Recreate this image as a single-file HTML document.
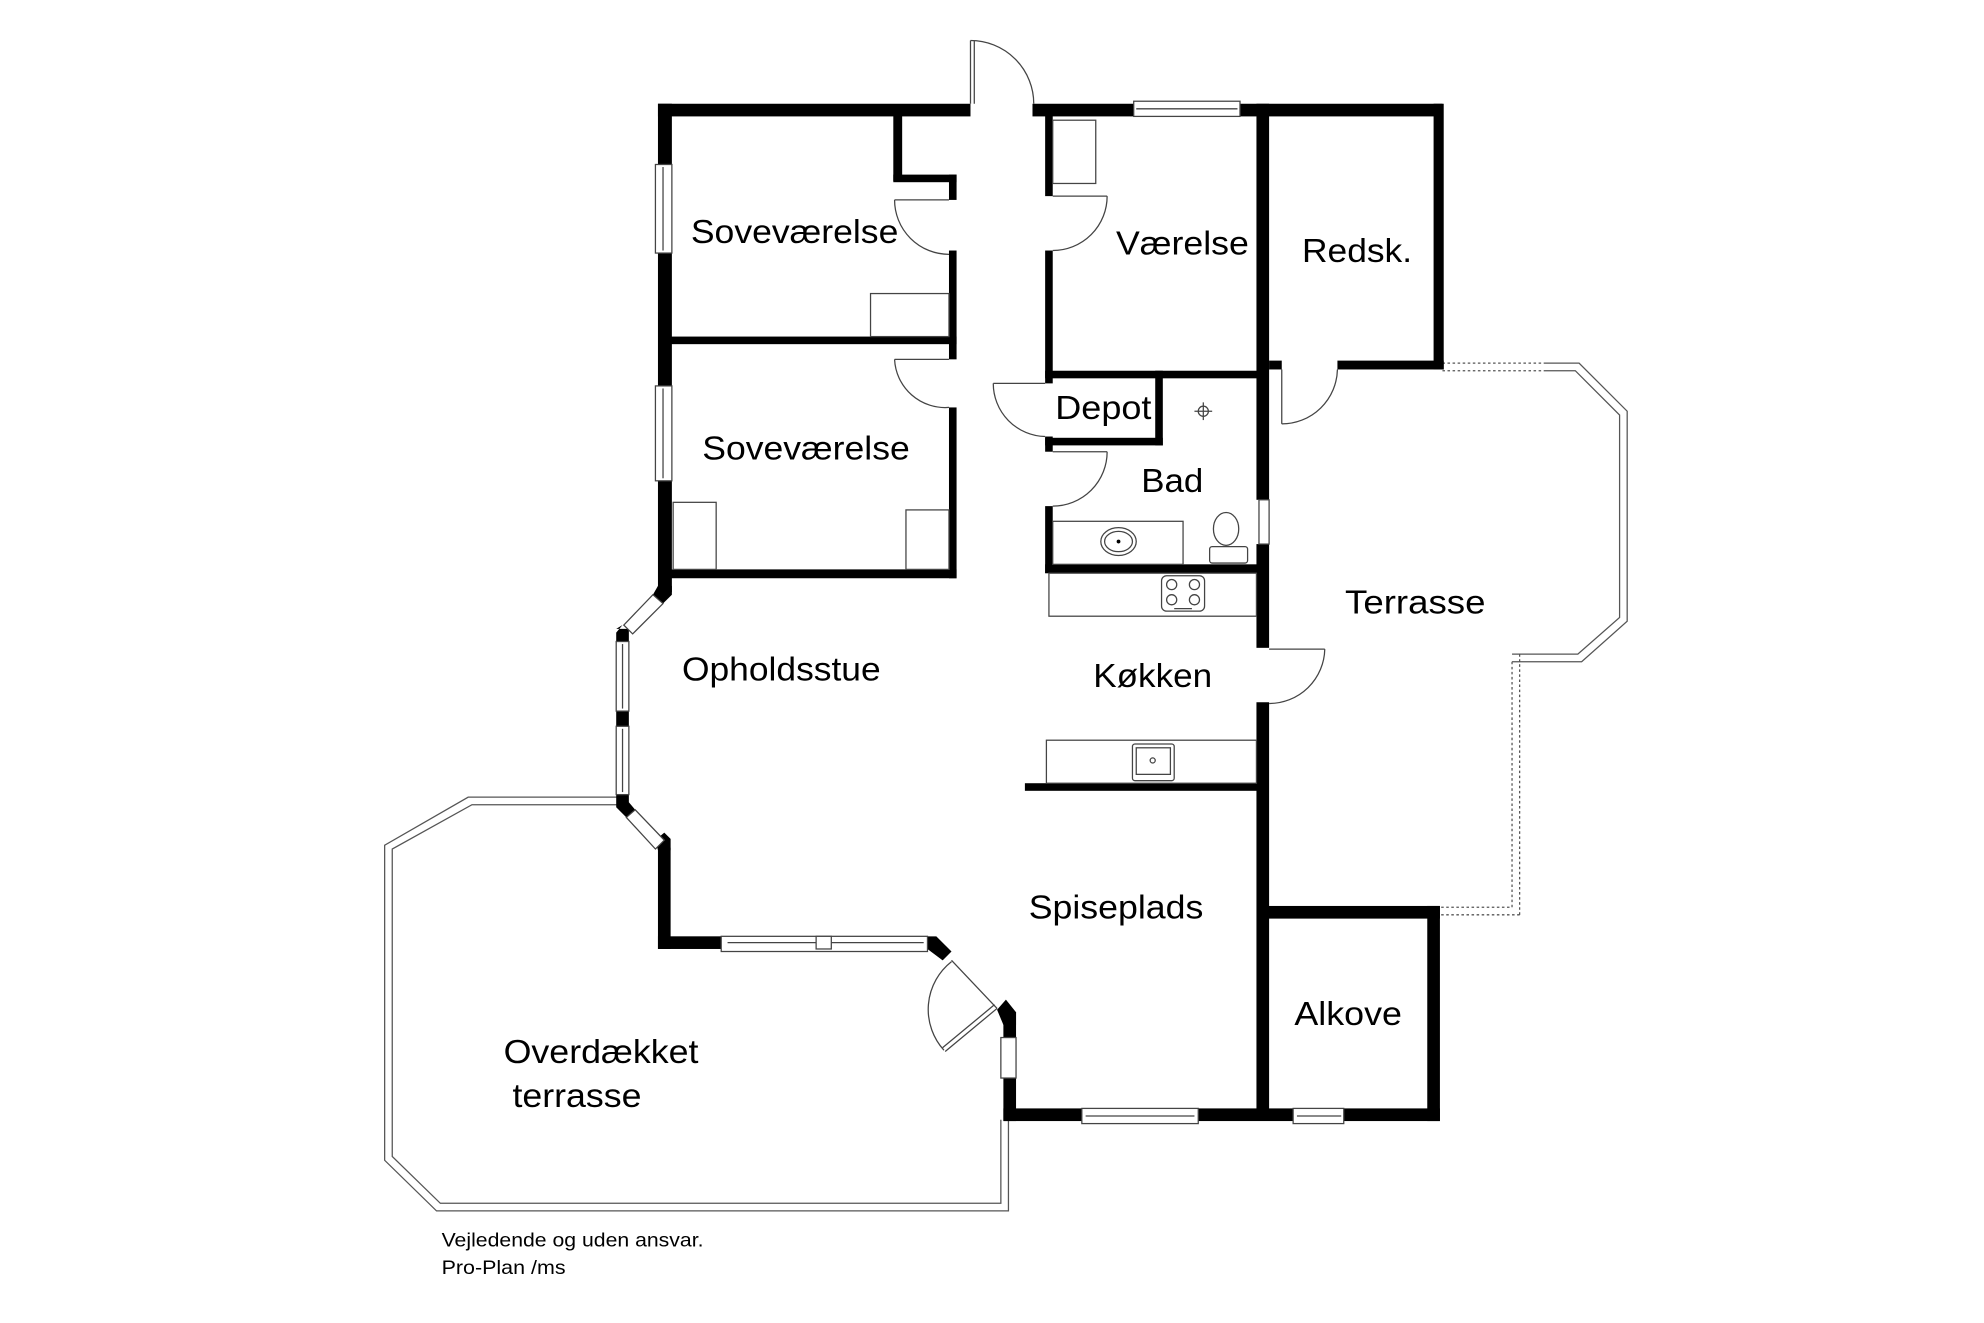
<!DOCTYPE html>
<html><head><meta charset="utf-8"><style>
html,body{margin:0;padding:0;background:#fff;}
svg{display:block;}
text{font-family:"Liberation Sans",Arial,sans-serif;fill:#000;}
</style></head><body>
<svg width="1984" height="1323" viewBox="0 0 1568 1045.6" xmlns="http://www.w3.org/2000/svg">
<rect x="0" y="0" width="1568" height="1046" fill="#fff"/>
<g fill="none" stroke="#555" stroke-width="1">
<!-- Overdaekket terrasse outline (double) -->
<polyline points="492,630 370,630 304,668 304,917 345,957 797,957 797,885"/>
<polyline points="492,636 373,636 310,671 310,914 348,951 791,951 791,885"/>
<!-- Terrasse outline -->
<polyline points="1220,287 1248,287 1286,325 1286,491 1250,523 1195,523"/>
<polyline points="1220,293 1245,293 1280,328 1280,488 1247,517 1195,517"/>
<g stroke-dasharray="2,2">
<line x1="1140" y1="287" x2="1220" y2="287"/><line x1="1140" y1="293" x2="1220" y2="293"/>
<line x1="1195" y1="523" x2="1195" y2="717"/><line x1="1201" y1="517" x2="1201" y2="723"/>
<line x1="1135" y1="717" x2="1195" y2="717"/><line x1="1135" y1="723" x2="1201" y2="723"/>
</g>
</g>
<g fill="#000">
<!-- top wall -->
<rect x="520" y="82" width="247" height="10"/>
<rect x="816" y="82" width="80" height="10"/>
<rect x="980" y="82" width="160" height="10"/>
<!-- left wall -->
<rect x="520" y="82" width="11" height="48"/>
<rect x="520" y="200" width="11" height="105"/>
<rect x="520" y="380" width="11" height="88"/>
<!-- nook -->
<rect x="706" y="91" width="7" height="52"/>
<rect x="706" y="138" width="50" height="6"/>
<rect x="750" y="138" width="6" height="20"/>
<rect x="750" y="198" width="6" height="86"/>
<rect x="525" y="266" width="231" height="6"/>
<rect x="750" y="322" width="6" height="135"/>
<rect x="525" y="450" width="231" height="7"/>
<!-- vaerelse/depot/bad -->
<rect x="826" y="91" width="6" height="64"/>
<rect x="826" y="198" width="6" height="105"/>
<rect x="826" y="293" width="171" height="6"/>
<rect x="913" y="293" width="6" height="59"/>
<rect x="826" y="346" width="93" height="6"/>
<rect x="826" y="345" width="6" height="12"/>
<rect x="826" y="400" width="6" height="53"/>
<rect x="826" y="446" width="171" height="7"/>
<rect x="810" y="619" width="187" height="6"/>
<!-- right wall -->
<rect x="993" y="82" width="10" height="313"/>
<rect x="993" y="430" width="10" height="82"/>
<rect x="993" y="555" width="10" height="330"/>
<!-- redsk -->
<rect x="1133" y="82" width="8" height="210"/>
<rect x="1003" y="285" width="10" height="7"/>
<rect x="1057" y="285" width="84" height="7"/>
<!-- alkove -->
<rect x="998" y="716" width="140" height="10"/>
<rect x="1128" y="716" width="10" height="170"/>
<!-- bottom -->
<rect x="793" y="876" width="62" height="10"/>
<rect x="947" y="876" width="75" height="10"/>
<rect x="1062" y="876" width="76" height="10"/>
<rect x="793" y="852" width="10" height="34"/>
<rect x="793" y="800" width="10" height="20"/>
<polygon points="795,790 803,800 803,810 793,810 788,798"/>
<!-- lower left -->
<rect x="520" y="670" width="10" height="80"/>
<rect x="520" y="740" width="52" height="10"/>
<polygon points="733,740 740,740 752,752 745,759 733,750"/>
<!-- bay blocks -->
<polygon points="520,463 531,463 531,470 524,477 516,470"/>
<polygon points="487,497 497,497 497,507 487,507 487,500 492,494"/>
<rect x="487" y="562" width="10" height="12"/>
<polygon points="487,628 497,628 497,634 502,640 495,646 487,638"/>
<polygon points="518,664 525,658 530,663 530,672 520,672"/>
</g>
<g fill="#fff" stroke="#444" stroke-width="1">
<!-- windows -->
<rect x="896" y="80" width="84" height="12"/><line x1="898" y1="86" x2="978" y2="86"/>
<rect x="518" y="130" width="13" height="70"/><line x1="524" y1="132" x2="524" y2="198"/>
<rect x="518" y="305" width="13" height="75"/><line x1="524" y1="307" x2="524" y2="378"/>
<rect x="995" y="395" width="8" height="35"/>
<rect x="570" y="740" width="163" height="12"/><line x1="575" y1="745" x2="730" y2="745"/><rect x="645" y="740" width="12" height="10"/>
<rect x="855" y="876" width="92" height="12"/><line x1="858" y1="882" x2="944" y2="882"/>
<rect x="1022" y="876" width="40" height="12"/><line x1="1025" y1="882" x2="1060" y2="882"/>
<rect x="791" y="820" width="12" height="32"/>
<rect x="487" y="507" width="10" height="55"/><line x1="492" y1="509" x2="492" y2="560"/>
<rect x="487" y="574" width="10" height="54"/><line x1="492" y1="576" x2="492" y2="626"/>
<polygon points="516,470 524,477 500,501 493,494"/>
<polygon points="502,640 495,646 518,671 525,664"/>
</g>
<g fill="none" stroke="#444" stroke-width="1">
<!-- doors -->
<line x1="767" y1="82" x2="767" y2="32"/><line x1="770" y1="82" x2="770" y2="32"/>
<path d="M767,32 A50,50 0 0 1 817,82"/>
<line x1="750" y1="158" x2="707" y2="158"/><path d="M707,158 A43,43 0 0 0 750,201"/>
<line x1="750" y1="284" x2="707" y2="284"/><path d="M707,284 A40,40 0 0 0 750,322"/>
<line x1="832" y1="155" x2="875" y2="155"/><path d="M875,155 A43,43 0 0 1 832,198"/>
<line x1="826" y1="303" x2="785" y2="303"/><path d="M785,303 A42,42 0 0 0 826,345"/>
<line x1="832" y1="357" x2="875" y2="357"/><path d="M875,357 A43,43 0 0 1 832,400"/>
<line x1="1013" y1="292" x2="1013" y2="335"/><path d="M1013,335 A44,44 0 0 0 1057,292"/>
<line x1="1003" y1="513" x2="1047" y2="513"/><path d="M1047,513 A44,44 0 0 1 1003,556"/>
<line x1="788" y1="797" x2="747" y2="831"/><line x1="786" y1="794" x2="745" y2="828"/>
<line x1="752" y1="759" x2="788" y2="797"/>
<path d="M752,760 A48,48 0 0 0 746,830"/>
<!-- furniture -->
<rect x="688" y="232" width="62" height="34"/>
<rect x="532" y="397" width="34" height="53"/>
<rect x="716" y="403" width="34" height="47"/>
<rect x="832" y="95" width="34" height="50"/>
<rect x="829" y="453" width="164" height="34"/>
<rect x="918" y="455" width="34" height="28" rx="4"/>
<circle cx="926" cy="462" r="4"/><circle cx="944" cy="462" r="4"/><circle cx="926" cy="474" r="4"/><circle cx="944" cy="474" r="4"/>
<line x1="928" y1="481" x2="942" y2="481"/>
<rect x="827" y="585" width="166" height="34"/>
<rect x="895" y="588" width="33" height="29" rx="2"/><rect x="898" y="591" width="27" height="21"/>
<circle cx="911" cy="601" r="2"/>
<rect x="832" y="412" width="103" height="34"/>
<ellipse cx="884" cy="428" rx="14" ry="11"/><ellipse cx="884" cy="428" rx="11" ry="8"/>
<ellipse cx="969" cy="418" rx="10" ry="13"/>
<rect x="956" y="432" width="30" height="13" rx="2"/>
<circle cx="951" cy="325" r="4"/>
<line x1="944" y1="325" x2="958" y2="325"/><line x1="951" y1="318" x2="951" y2="332"/>
</g>
<g fill="#000" stroke="none">
<circle cx="884" cy="428" r="1.5"/>
</g>
<g font-size="26">
<text x="546" y="192" textLength="164" lengthAdjust="spacingAndGlyphs">Soveværelse</text>
<text x="882" y="201" textLength="105" lengthAdjust="spacingAndGlyphs">Værelse</text>
<text x="1029" y="207" textLength="87" lengthAdjust="spacingAndGlyphs">Redsk.</text>
<text x="834" y="331" textLength="76" lengthAdjust="spacingAndGlyphs">Depot</text>
<text x="555" y="363" textLength="164" lengthAdjust="spacingAndGlyphs">Soveværelse</text>
<text x="902" y="389" textLength="49" lengthAdjust="spacingAndGlyphs">Bad</text>
<text x="1063" y="485" textLength="111" lengthAdjust="spacingAndGlyphs">Terrasse</text>
<text x="539" y="538" textLength="157" lengthAdjust="spacingAndGlyphs">Opholdsstue</text>
<text x="864" y="543" textLength="94" lengthAdjust="spacingAndGlyphs">Køkken</text>
<text x="813" y="726" textLength="138" lengthAdjust="spacingAndGlyphs">Spiseplads</text>
<text x="1023" y="810" textLength="85" lengthAdjust="spacingAndGlyphs">Alkove</text>
<text x="398" y="840" textLength="154" lengthAdjust="spacingAndGlyphs">Overdækket</text>
<text x="405" y="875" textLength="102" lengthAdjust="spacingAndGlyphs">terrasse</text>
</g>
<g font-size="15">
<text x="349" y="985" textLength="207" lengthAdjust="spacingAndGlyphs">Vejledende og uden ansvar.</text>
<text x="349" y="1007" textLength="98" lengthAdjust="spacingAndGlyphs">Pro-Plan /ms</text>
</g>
</svg>
</body></html>
